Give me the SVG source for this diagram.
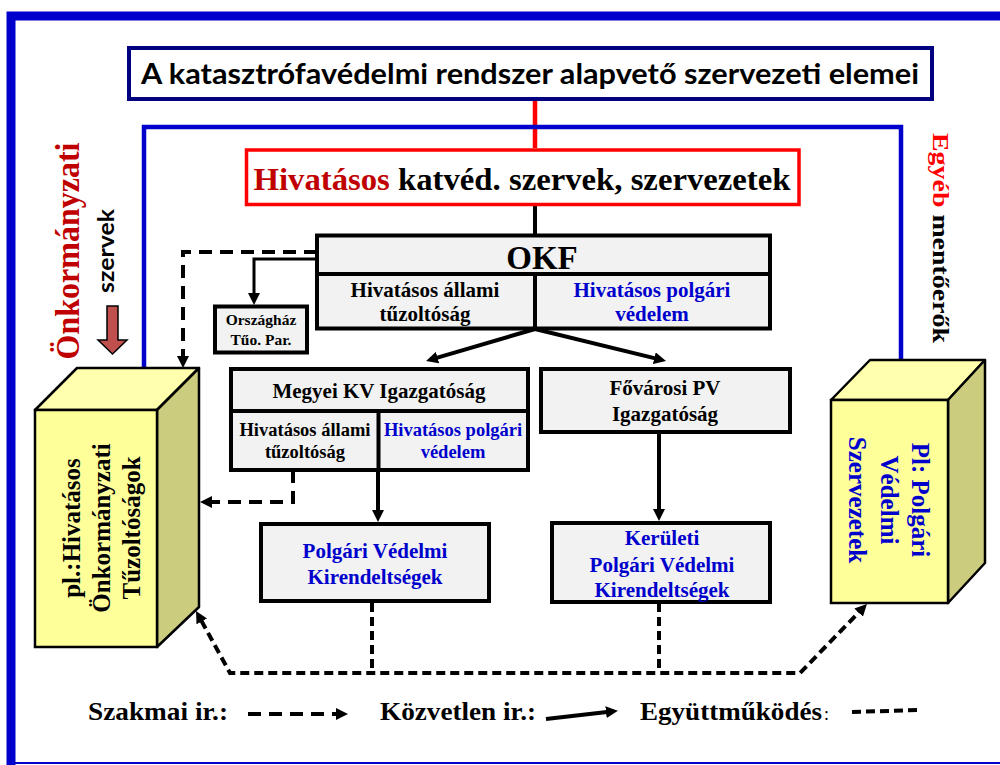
<svg xmlns="http://www.w3.org/2000/svg" width="1000" height="765" viewBox="0 0 1000 765">
<style>
.t{font-family:"Liberation Serif","Times New Roman",serif;font-weight:bold;fill:#000}
.s{font-family:Lato,"Liberation Sans",Arial,sans-serif;font-weight:bold;fill:#000}
.bl{fill:#0000CC}
.dr{fill:#C00000}
.box{fill:#F2F2F2;stroke:#000;stroke-width:4}
.ln{fill:none;stroke:#000;stroke-width:4}
.dash{fill:none;stroke:#000;stroke-width:4;stroke-dasharray:13 8}
.coop{fill:none;stroke:#000;stroke-width:4;stroke-dasharray:9 5}
.mid{text-anchor:middle}
</style>
<defs>
<marker id="ah" viewBox="0 0 12 12" refX="1" refY="6" markerWidth="12" markerHeight="12" markerUnits="userSpaceOnUse" orient="auto-start-reverse">
<path d="M0,0 L12,6 L0,12 z" fill="#000"/>
</marker>
</defs>
<rect width="1000" height="765" fill="#fff"/>
<g id="frame">
<path d="M11,765 V16 H1000" fill="none" stroke="#0000CC" stroke-width="9"/>
<path d="M11,763 H1000" fill="none" stroke="#0000CC" stroke-width="2"/>
</g>
<g id="connectors">
<path d="M535,99 V148" fill="none" stroke="#FF0000" stroke-width="4.5"/>
<path d="M144,368 V127 H901 V360" fill="none" stroke="#0000CC" stroke-width="4.5"/>
<path class="ln" d="M535,205 V234"/>
<path class="ln" d="M317,259 H254 V294" marker-end="url(#ah)" style="stroke-width:3"/>
<path class="dash" d="M317,252 H183 V357" marker-end="url(#ah)"/>
<path class="ln" d="M535,329 L436.6,357.9" marker-end="url(#ah)"/>
<path class="ln" d="M535,329 L655.3,358.4" marker-end="url(#ah)"/>
<path class="ln" d="M378,470 V511" marker-end="url(#ah)"/>
<path class="ln" d="M659,433 V510" marker-end="url(#ah)"/>
<path class="dash" d="M293,470 V502 H211" marker-end="url(#ah)"/>
<path class="coop" d="M372,603 V673"/>
<path class="coop" d="M659,603 V673"/>
<path class="coop" d="M201.3,620.6 L230,673 H800 L859.3,611.9" marker-start="url(#ah)" marker-end="url(#ah)"/>
</g>
<g id="title">
<rect x="129" y="48" width="803" height="51" fill="#fff" stroke="#000080" stroke-width="4"/>
<text class="s mid" x="530" y="84" font-size="29" textLength="778" lengthAdjust="spacingAndGlyphs">A katasztrófavédelmi rendszer alapvető szervezeti elemei</text>
</g>
<g id="hivatasos">
<rect x="246.5" y="150" width="552.5" height="54.5" fill="#fff" stroke="#FF0000" stroke-width="3.5"/>
<text class="t mid" x="522" y="190" font-size="32" textLength="537" lengthAdjust="spacingAndGlyphs"><tspan class="dr">Hivatásos</tspan> katvéd. szervek, szervezetek</text>
</g>
<g id="okf">
<rect class="box" x="317" y="235.5" width="453" height="93"/>
<path class="ln" d="M317,274 H770 M535,274 V328.5"/>
<text class="t mid" x="542" y="269" font-size="33">OKF</text>
<text class="t mid" x="425" y="297" font-size="21">Hivatásos állami</text>
<text class="t mid" x="425" y="321" font-size="21">tűzoltóság</text>
<text class="t mid bl" x="652" y="297" font-size="21">Hivatásos polgári</text>
<text class="t mid bl" x="652" y="321" font-size="21">védelem</text>
</g>
<g id="orszaghaz">
<rect class="box" x="215" y="306.5" width="92" height="46"/>
<text class="t mid" x="261" y="325" font-size="15.5">Országház</text>
<text class="t mid" x="261" y="345" font-size="15.5">Tűo. Par.</text>
</g>
<g id="megyei">
<rect class="box" x="231" y="369" width="297" height="101"/>
<path class="ln" d="M231,411 H528 M378.5,411 V470"/>
<text class="t mid" x="379" y="398" font-size="21">Megyei KV Igazgatóság</text>
<text class="t mid" x="305" y="436" font-size="18.5">Hivatásos állami</text>
<text class="t mid" x="305" y="458" font-size="18.5">tűzoltóság</text>
<text class="t mid bl" x="453" y="436" font-size="18.5">Hivatásos polgári</text>
<text class="t mid bl" x="453" y="458" font-size="18.5">védelem</text>
</g>
<g id="fovarosi">
<rect class="box" x="541" y="369" width="249" height="63"/>
<text class="t mid" x="665" y="395" font-size="21">Fővárosi PV</text>
<text class="t mid" x="665" y="421" font-size="21">Igazgatóság</text>
</g>
<g id="pvk">
<rect class="box" x="261" y="524" width="228" height="77"/>
<text class="t mid bl" x="375" y="558" font-size="21">Polgári Védelmi</text>
<text class="t mid bl" x="375" y="584" font-size="21">Kirendeltségek</text>
</g>
<g id="keruleti">
<rect class="box" x="552" y="523" width="218" height="79"/>
<text class="t mid bl" x="662" y="545" font-size="21">Kerületi</text>
<text class="t mid bl" x="662" y="572" font-size="21">Polgári Védelmi</text>
<text class="t mid bl" x="662" y="597" font-size="21">Kirendeltségek</text>
</g>
<g id="onkormanyzati-box">
<polygon points="35,410 77,368 199,368 157,410" fill="#FFFFAD" stroke="#000" stroke-width="2.5" stroke-linejoin="round"/>
<polygon points="157,410 199,368 199,607 157,647" fill="#CCCC7F" stroke="#000" stroke-width="2.5" stroke-linejoin="round"/>
<rect x="35" y="410" width="122" height="237" fill="#FFFF99" stroke="#000" stroke-width="2.5"/>
<text class="t mid" transform="translate(80,528) rotate(-90)" font-size="25">pl.:Hivatásos</text>
<text class="t mid" transform="translate(110,528) rotate(-90)" font-size="25">Önkormányzati</text>
<text class="t mid" transform="translate(140,528) rotate(-90)" font-size="25">Tűzoltóságok</text>
</g>
<g id="polgari-box">
<polygon points="831,400 870,360 985,360 948,400" fill="#FFFFAD" stroke="#000" stroke-width="2.5" stroke-linejoin="round"/>
<polygon points="948,400 985,360 985,563 948,603" fill="#CCCC7F" stroke="#000" stroke-width="2.5" stroke-linejoin="round"/>
<rect x="831" y="400" width="117" height="203" fill="#FFFF99" stroke="#000" stroke-width="2.5"/>
<text class="t mid bl" transform="translate(912,500) rotate(90)" font-size="25">Pl: Polgári</text>
<text class="t mid bl" transform="translate(881,500) rotate(90)" font-size="25">Védelmi</text>
<text class="t mid bl" transform="translate(849,500) rotate(90)" font-size="25">Szervezetek</text>
</g>
<g id="side-labels">
<text class="t mid dr" transform="translate(79,251) rotate(-90)" font-size="33" textLength="217" lengthAdjust="spacingAndGlyphs">Önkormányzati</text>
<text class="s mid" transform="translate(114,251) rotate(-90)" font-size="23" textLength="84" lengthAdjust="spacingAndGlyphs">szervek</text>
<polygon points="107,306 118,306 118,340 127,340 112.5,354 98,340 107,340" fill="#C0504D" stroke="#000" stroke-width="1.5"/>
<text class="t" transform="translate(933,133) rotate(90)" font-size="23" textLength="210" lengthAdjust="spacingAndGlyphs"><tspan fill="#FF0000">Egyéb</tspan> mentőerők</text>
</g>
<g id="legend">
<text class="t" x="88" y="720" font-size="26" textLength="140" lengthAdjust="spacingAndGlyphs">Szakmai ir.:</text>
<path class="dash" d="M248,714 H337" marker-end="url(#ah)"/>
<text class="t" x="380" y="720" font-size="26" textLength="156" lengthAdjust="spacingAndGlyphs">Közvetlen ir.:</text>
<path class="ln" d="M546,719 L607,712" marker-end="url(#ah)"/>
<text class="t" x="640" y="720" font-size="26" textLength="182" lengthAdjust="spacingAndGlyphs">Együttműködés</text>
<text x="824" y="720" font-size="18" font-family="Liberation Serif,serif">:</text>
<path class="coop" d="M852,712 L918,710"/>
</g>
</svg>
